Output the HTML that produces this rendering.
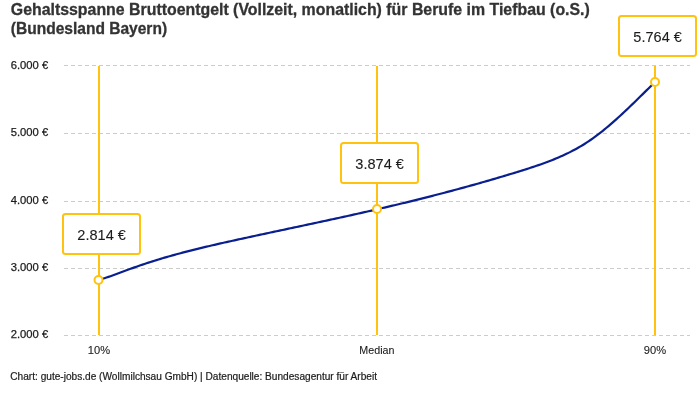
<!DOCTYPE html>
<html><head><meta charset="utf-8"><style>
html,body{margin:0;padding:0;background:#fff;}
svg{display:block;will-change:transform;font-family:"Liberation Sans", sans-serif;}
</style></head><body>
<svg width="700" height="400" viewBox="0 0 700 400">
<rect width="700" height="400" fill="#fff"/>
<g font-weight="bold" font-size="16" fill="#333" stroke="#333" stroke-width="0.3">
<text x="10.8" y="14.6" textLength="579" lengthAdjust="spacingAndGlyphs">Gehaltsspanne Bruttoentgelt (Vollzeit, monatlich) für Berufe im Tiefbau (o.S.)</text>
<text x="10.8" y="33.9" textLength="156.3" lengthAdjust="spacingAndGlyphs">(Bundesland Bayern)</text>
</g>
<g>
<line x1="64" y1="65.5" x2="690" y2="65.5" stroke="#cccccc" stroke-width="1" stroke-dasharray="4,3"/>
<line x1="64" y1="133.5" x2="690" y2="133.5" stroke="#cccccc" stroke-width="1" stroke-dasharray="4,3"/>
<line x1="64" y1="201.5" x2="690" y2="201.5" stroke="#cccccc" stroke-width="1" stroke-dasharray="4,3"/>
<line x1="64" y1="268.5" x2="690" y2="268.5" stroke="#cccccc" stroke-width="1" stroke-dasharray="4,3"/>
<line x1="64" y1="335.5" x2="690" y2="335.5" stroke="#cccccc" stroke-width="1" stroke-dasharray="4,3"/>
</g>
<g font-size="11" fill="#1c1c1c" stroke="#1c1c1c" stroke-width="0.25">
<text x="48.2" y="68.8" text-anchor="end" textLength="37.5" lengthAdjust="spacingAndGlyphs">6.000 €</text>
<text x="48.2" y="136.05" text-anchor="end" textLength="37.5" lengthAdjust="spacingAndGlyphs">5.000 €</text>
<text x="48.2" y="203.9" text-anchor="end" textLength="37.5" lengthAdjust="spacingAndGlyphs">4.000 €</text>
<text x="48.2" y="270.55" text-anchor="end" textLength="37.5" lengthAdjust="spacingAndGlyphs">3.000 €</text>
<text x="48.2" y="337.8" text-anchor="end" textLength="37.5" lengthAdjust="spacingAndGlyphs">2.000 €</text>
</g>
<g stroke="#FFC20E" stroke-width="2">
<line x1="99" y1="66" x2="99" y2="335"/>
<line x1="377" y1="66" x2="377" y2="335"/>
<line x1="655" y1="66" x2="655" y2="335"/>
</g>
<path d="M98.5,280.01 L100.5,279.43 L102.5,278.82 L104.5,278.19 L106.5,277.54 L108.5,276.86 L110.5,276.17 L112.5,275.47 L114.5,274.76 L116.5,274.03 L118.5,273.30 L120.5,272.55 L122.5,271.81 L124.5,271.06 L126.5,270.32 L128.5,269.58 L130.5,268.84 L132.5,268.11 L134.5,267.39 L136.5,266.67 L138.5,265.97 L140.5,265.28 L142.5,264.60 L144.5,263.93 L146.5,263.26 L148.5,262.61 L150.5,261.96 L152.5,261.33 L154.5,260.70 L156.5,260.08 L158.5,259.46 L160.5,258.86 L162.5,258.26 L164.5,257.67 L166.5,257.09 L168.5,256.51 L170.5,255.95 L172.5,255.38 L174.5,254.83 L176.5,254.28 L178.5,253.73 L180.5,253.20 L182.5,252.67 L184.5,252.14 L186.5,251.62 L188.5,251.10 L190.5,250.59 L192.5,250.09 L194.5,249.59 L196.5,249.09 L198.5,248.60 L200.5,248.11 L202.5,247.63 L204.5,247.15 L206.5,246.68 L208.5,246.20 L210.5,245.74 L212.5,245.27 L214.5,244.81 L216.5,244.35 L218.5,243.89 L220.5,243.44 L222.5,242.99 L224.5,242.54 L226.5,242.09 L228.5,241.65 L230.5,241.21 L232.5,240.76 L234.5,240.32 L236.5,239.88 L238.5,239.45 L240.5,239.01 L242.5,238.57 L244.5,238.14 L246.5,237.70 L248.5,237.27 L250.5,236.84 L252.5,236.40 L254.5,235.97 L256.5,235.54 L258.5,235.11 L260.5,234.68 L262.5,234.25 L264.5,233.82 L266.5,233.39 L268.5,232.97 L270.5,232.54 L272.5,232.11 L274.5,231.68 L276.5,231.26 L278.5,230.83 L280.5,230.40 L282.5,229.98 L284.5,229.55 L286.5,229.13 L288.5,228.70 L290.5,228.27 L292.5,227.85 L294.5,227.42 L296.5,226.99 L298.5,226.57 L300.5,226.14 L302.5,225.72 L304.5,225.29 L306.5,224.86 L308.5,224.43 L310.5,224.00 L312.5,223.58 L314.5,223.15 L316.5,222.72 L318.5,222.29 L320.5,221.86 L322.5,221.43 L324.5,221.00 L326.5,220.56 L328.5,220.13 L330.5,219.70 L332.5,219.26 L334.5,218.83 L336.5,218.39 L338.5,217.95 L340.5,217.52 L342.5,217.08 L344.5,216.64 L346.5,216.20 L348.5,215.75 L350.5,215.31 L352.5,214.87 L354.5,214.42 L356.5,213.98 L358.5,213.53 L360.5,213.08 L362.5,212.63 L364.5,212.18 L366.5,211.72 L368.5,211.27 L370.5,210.81 L372.5,210.36 L374.5,209.90 L376.5,209.44 L378.5,208.98 L380.5,208.51 L382.5,208.05 L384.5,207.58 L386.5,207.11 L388.5,206.64 L390.5,206.17 L392.5,205.69 L394.5,205.22 L396.5,204.74 L398.5,204.26 L400.5,203.78 L402.5,203.30 L404.5,202.81 L406.5,202.33 L408.5,201.84 L410.5,201.35 L412.5,200.86 L414.5,200.36 L416.5,199.87 L418.5,199.37 L420.5,198.87 L422.5,198.37 L424.5,197.86 L426.5,197.36 L428.5,196.85 L430.5,196.34 L432.5,195.83 L434.5,195.31 L436.5,194.80 L438.5,194.28 L440.5,193.76 L442.5,193.24 L444.5,192.71 L446.5,192.18 L448.5,191.66 L450.5,191.12 L452.5,190.59 L454.5,190.05 L456.5,189.52 L458.5,188.98 L460.5,188.43 L462.5,187.89 L464.5,187.34 L466.5,186.79 L468.5,186.24 L470.5,185.68 L472.5,185.13 L474.5,184.57 L476.5,184.00 L478.5,183.44 L480.5,182.87 L482.5,182.30 L484.5,181.73 L486.5,181.16 L488.5,180.58 L490.5,180.00 L492.5,179.42 L494.5,178.83 L496.5,178.24 L498.5,177.65 L500.5,177.06 L502.5,176.47 L504.5,175.87 L506.5,175.27 L508.5,174.66 L510.5,174.06 L512.5,173.45 L514.5,172.84 L516.5,172.22 L518.5,171.60 L520.5,170.98 L522.5,170.36 L524.5,169.73 L526.5,169.10 L528.5,168.45 L530.5,167.81 L532.5,167.15 L534.5,166.48 L536.5,165.81 L538.5,165.12 L540.5,164.42 L542.5,163.71 L544.5,162.99 L546.5,162.25 L548.5,161.50 L550.5,160.73 L552.5,159.94 L554.5,159.13 L556.5,158.31 L558.5,157.46 L560.5,156.59 L562.5,155.70 L564.5,154.79 L566.5,153.85 L568.5,152.88 L570.5,151.88 L572.5,150.85 L574.5,149.79 L576.5,148.70 L578.5,147.57 L580.5,146.41 L582.5,145.21 L584.5,143.97 L586.5,142.69 L588.5,141.37 L590.5,140.01 L592.5,138.61 L594.5,137.17 L596.5,135.69 L598.5,134.17 L600.5,132.62 L602.5,131.03 L604.5,129.41 L606.5,127.76 L608.5,126.08 L610.5,124.38 L612.5,122.64 L614.5,120.88 L616.5,119.10 L618.5,117.29 L620.5,115.46 L622.5,113.61 L624.5,111.74 L626.5,109.86 L628.5,107.96 L630.5,106.05 L632.5,104.12 L634.5,102.18 L636.5,100.24 L638.5,98.28 L640.5,96.32 L642.5,94.35 L644.5,92.38 L646.5,90.40 L648.5,88.42 L650.5,86.45 L652.5,84.47 L654.5,82.50 L655.0,82.00" fill="none" stroke="#0a1f8f" stroke-width="2.2" stroke-linejoin="round"/>
<g fill="#fff" stroke="#FFC20E" stroke-width="2">
<circle cx="98.5" cy="280" r="4"/>
<circle cx="377" cy="209" r="4"/>
<circle cx="655" cy="82" r="4"/>
</g>
<g fill="#1c1c1c">
<rect x="63" y="214" width="77" height="40" rx="2.5" fill="#fff" stroke="#FFC20E" stroke-width="2"/>
<text x="101.6" y="239.7" text-anchor="middle" font-size="15.4" stroke="#1c1c1c" stroke-width="0.1" textLength="48.5" lengthAdjust="spacingAndGlyphs">2.814 €</text>
<rect x="341" y="143" width="77" height="40" rx="2.5" fill="#fff" stroke="#FFC20E" stroke-width="2"/>
<text x="379.6" y="168.7" text-anchor="middle" font-size="15.4" stroke="#1c1c1c" stroke-width="0.1" textLength="48.5" lengthAdjust="spacingAndGlyphs">3.874 €</text>
<rect x="619" y="16" width="77" height="40" rx="2.5" fill="#fff" stroke="#FFC20E" stroke-width="2"/>
<text x="657.6" y="41.7" text-anchor="middle" font-size="15.4" stroke="#1c1c1c" stroke-width="0.1" textLength="48.5" lengthAdjust="spacingAndGlyphs">5.764 €</text>

</g>
<g font-size="11" fill="#1c1c1c" stroke="#1c1c1c" stroke-width="0.1" text-anchor="middle">
<text x="99" y="353.9" textLength="22.3" lengthAdjust="spacingAndGlyphs">10%</text>
<text x="376.9" y="353.9" textLength="35.1" lengthAdjust="spacingAndGlyphs">Median</text>
<text x="655" y="353.9" textLength="22.3" lengthAdjust="spacingAndGlyphs">90%</text>
</g>
<text x="10.3" y="380" font-size="10" fill="#1c1c1c" stroke="#1c1c1c" stroke-width="0.2" textLength="366.7" lengthAdjust="spacingAndGlyphs">Chart: gute-jobs.de (Wollmilchsau GmbH) | Datenquelle: Bundesagentur für Arbeit</text>
</svg>
</body></html>
